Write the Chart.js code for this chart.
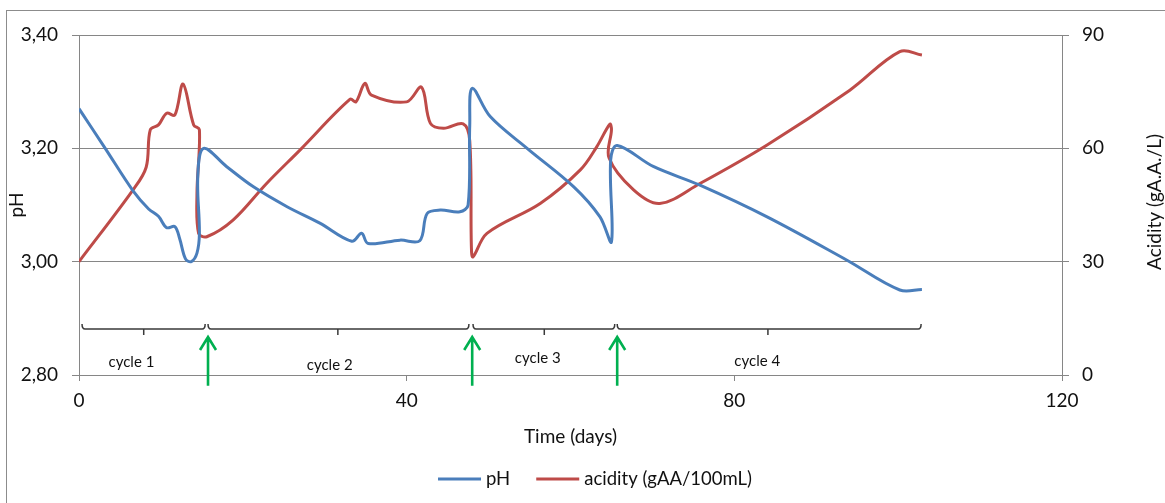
<!DOCTYPE html>
<html>
<head>
<meta charset="utf-8">
<script src="https://cdn.jsdelivr.net/npm/chart.js@4"></script>
<style>
  html, body { margin: 0; padding: 0; background: #fff; overflow: hidden; }
  #frame { position: absolute; left: 6px; top: 10px; width: 1250px; height: 600px; border: 1px solid #8c8c8c; }
  #chart { position: absolute; left: 0; top: 0; }
</style>
</head>
<body>
<div id="frame"></div>
<canvas id="chart" width="1165" height="503"></canvas>
<script>
// pH curve (day, pH)
const phDays = [0, 3.2, 6.6, 8.5, 9.7, 10.7, 11.7, 12.3, 13.0, 13.7, 14.4, 14.7, 14.5, 15.2, 18.0, 21.3, 25.4, 29.4,
  33.3, 34.5, 35.3, 39.2, 41.6, 42.5, 44.1, 46.5, 47.5, 47.7, 48.0, 50.2, 54.7, 60.4, 63.6, 65.0, 64.9, 65.7,
  70.1, 75.8, 84.0, 93.7, 100.2, 102.9];
const phValues = [3.27, 3.20, 3.125, 3.093, 3.08, 3.06, 3.062, 3.04, 3.005, 3.0, 3.015, 3.05, 3.15, 3.20, 3.168, 3.132, 3.097, 3.068,
  3.036, 3.05, 3.032, 3.038, 3.037, 3.085, 3.091, 3.088, 3.10, 3.24, 3.306, 3.256, 3.20, 3.132, 3.079, 3.035, 3.179, 3.205,
  3.168, 3.135, 3.079, 3.003, 2.95, 2.951];

// acidity curve (day, g/L)
const acidDays = [0, 6.6, 8.2, 8.7, 9.7, 10.7, 11.7, 12.7, 14.0, 14.7, 14.4, 14.6, 15.6, 18.8, 22.9, 27.0,
  33.1, 33.8, 34.9, 35.7, 40.0, 41.8, 42.9, 44.5, 46.9, 47.7, 47.9, 48.1, 49.8, 56.3, 61.2, 63.2, 64.8, 65.0,
  64.7, 67.7, 70.9, 75.8, 84.0, 94.1, 100.2, 102.9];
const acidValues = [30, 49, 55, 64.9, 66.2, 69.3, 68.8, 77, 66.2, 64.9, 48, 37.5, 36.6, 41, 50.7, 59.6,
  73, 72.3, 77.2, 74.1, 72.3, 76.2, 66.6, 65.3, 66.5, 62, 34, 31.3, 37.5, 45.4, 54.3, 60.4, 66.4, 64.9,
  57.5, 49, 45.4, 50.7, 60.9, 75.4, 85.6, 84.7];

// cycle brackets and feed arrows (days / pH units)
const cycleNames = ['cycle 1', 'cycle 2', 'cycle 3', 'cycle 4'];
const cycleStart = [0.37, 15.75, 48.1, 65.7];
const cycleEnd = [15.4, 47.6, 65.4, 102.8];
const cycleMid = [7.9, 31.6, 56.8, 84.1];
const cycleLabelDay = [6.4, 30.6, 56.0, 82.8];
const cycleLabelPh = [2.823, 2.818, 2.830, 2.825];
const bracketPh = 2.881;
const arrowDays = [15.75, 48.0, 65.7];
const arrowTipPh = 2.867;
const arrowBasePh = 2.781;

const xTicks = [0, 40, 80, 120];
const phTicks = [2.8, 3.0, 3.2, 3.4];
const acidTicks = [0, 30, 60, 90];

const FONT = 'Lato, "Open Sans", sans-serif';
const TEXT = '#111';
const GRID = '#868686';
const BLUE = '#4a7ebb';
const RED = '#be4b48';

const extras = {
  id: 'extras',
  afterDraw(chart) {
    const { ctx, chartArea, scales: { x, y } } = chart;
    ctx.save();

    // brackets
    ctx.strokeStyle = '#3a3a3a';
    ctx.lineWidth = 1.5;
    const by = y.getPixelForValue(bracketPh);
    ctx.font = '15px ' + FONT;
    ctx.fillStyle = TEXT;
    ctx.textAlign = 'center';
    ctx.textBaseline = 'middle';
    cycleNames.forEach((name, i) => {
      const x0 = x.getPixelForValue(cycleStart[i]);
      const x1 = x.getPixelForValue(cycleEnd[i]);
      const xm = x.getPixelForValue(cycleMid[i]);
      ctx.beginPath();
      ctx.moveTo(x0, by - 5);
      ctx.quadraticCurveTo(x0, by, x0 + 3, by);
      ctx.lineTo(x1 - 3, by);
      ctx.quadraticCurveTo(x1, by, x1, by - 5);
      ctx.moveTo(xm, by);
      ctx.lineTo(xm, by + 6);
      ctx.stroke();
      ctx.fillText(name, x.getPixelForValue(cycleLabelDay[i]), y.getPixelForValue(cycleLabelPh[i]));
    });

    // green arrows
    ctx.strokeStyle = '#00b050';
    ctx.lineWidth = 2.6;
    const ty = y.getPixelForValue(arrowTipPh);
    const bly = y.getPixelForValue(arrowBasePh);
    arrowDays.forEach(d => {
      const ax = x.getPixelForValue(d);
      ctx.beginPath();
      ctx.moveTo(ax, bly);
      ctx.lineTo(ax, ty + 1);
      ctx.moveTo(ax - 8, ty + 13);
      ctx.lineTo(ax, ty);
      ctx.lineTo(ax + 8, ty + 13);
      ctx.stroke();
    });

    // axis titles
    ctx.fillStyle = TEXT;
    ctx.font = '19px ' + FONT;
    const midY = (chartArea.top + chartArea.bottom) / 2;
    ctx.fillText('Time (days)', (chartArea.left + chartArea.right) / 2, 437);
    ctx.save();
    ctx.translate(17, midY);
    ctx.rotate(-Math.PI / 2);
    ctx.fillText('pH', 0, 0);
    ctx.restore();
    ctx.save();
    ctx.translate(1155, midY - 3);
    ctx.rotate(-Math.PI / 2);
    ctx.fillText('Acidity (gA.A./L)', 0, 0);
    ctx.restore();

    // legend
    ctx.font = '18.5px ' + FONT;
    const items = chart.data.datasets.map(ds => ({ label: ds.label, color: ds.borderColor }));
    const lineLen = 43, gap = 5, itemGap = 26;
    const widths = items.map(it => lineLen + gap + ctx.measureText(it.label).width);
    const total = widths.reduce((a, b) => a + b, 0) + itemGap * (items.length - 1);
    let lx = 595 - total / 2;
    const ly = 479;
    ctx.textAlign = 'left';
    items.forEach((it, i) => {
      ctx.strokeStyle = it.color;
      ctx.lineWidth = 3;
      ctx.beginPath();
      ctx.moveTo(lx, ly);
      ctx.lineTo(lx + lineLen, ly);
      ctx.stroke();
      ctx.fillText(it.label, lx + lineLen + gap, ly);
      lx += widths[i] + itemGap;
    });

    ctx.restore();
  }
};

new Chart(document.getElementById('chart'), {
  type: 'line',
  data: {
    datasets: [
      {
        label: 'pH',
        data: phDays.map((d, i) => ({ x: d, y: phValues[i] })),
        borderColor: BLUE,
        borderWidth: 3,
        pointRadius: 0,
        tension: 0.35,
        yAxisID: 'y'
      },
      {
        label: 'acidity (gAA/100mL)',
        data: acidDays.map((d, i) => ({ x: d, y: acidValues[i] })),
        borderColor: RED,
        borderWidth: 3,
        pointRadius: 0,
        tension: 0.35,
        yAxisID: 'y1'
      }
    ]
  },
  options: {
    responsive: false,
    animation: false,
    layout: { padding: { top: 35, left: 0, right: 0, bottom: 0 } },
    plugins: { legend: { display: false }, tooltip: { enabled: false } },
    scales: {
      x: {
        type: 'linear',
        min: 0, max: 120,
        afterBuildTicks: s => { s.ticks = xTicks.map(v => ({ value: v })); },
        afterFit: s => { s.height = 128; },
        ticks: { font: { family: FONT, size: 19 }, color: TEXT, padding: 8, maxRotation: 0 },
        grid: { drawOnChartArea: false, color: GRID, tickLength: 6 },
        border: { color: GRID }
      },
      y: {
        position: 'left',
        min: 2.8, max: 3.4,
        afterBuildTicks: s => { s.ticks = phTicks.map(v => ({ value: v })); },
        afterFit: s => { s.width = 79; },
        ticks: {
          font: { family: FONT, size: 19 }, color: TEXT, padding: 14,
          callback: v => v.toFixed(2).replace('.', ',')
        },
        grid: { color: GRID, tickLength: 7 },
        border: { color: GRID }
      },
      y1: {
        position: 'right',
        min: 0, max: 90,
        afterBuildTicks: s => { s.ticks = acidTicks.map(v => ({ value: v })); },
        afterFit: s => { s.width = 103; },
        ticks: { font: { family: FONT, size: 19 }, color: TEXT, padding: 13 },
        grid: { drawOnChartArea: false, color: GRID, tickLength: 7 },
        border: { color: GRID }
      }
    }
  },
  plugins: [extras]
});
</script>
</body>
</html>
